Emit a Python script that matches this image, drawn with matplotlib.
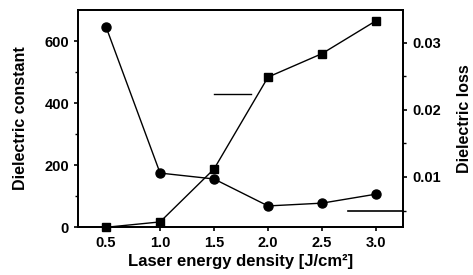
import numpy as np
import matplotlib
matplotlib.use("Agg")
import matplotlib.pyplot as plt

plt.rcParams['font.family'] = ['Liberation Sans', 'DejaVu Sans']

# Data
energy = [0.5, 1.0, 1.5, 2.0, 2.5, 3.0]
dielectric_constant = [645, 174, 155, 68, 77, 106]
dielectric_loss = [0.0025, 0.0033, 0.0112, 0.0249, 0.0284, 0.0333]

# short indicator segments (x range, level)
seg_left_x = [1.5, 1.84]
seg_left_y = [430, 430]
seg_right_x = [2.74, 3.25]
seg_right_y = [0.005, 0.005]

fig = plt.figure(figsize=(4.73, 2.75), dpi=100)
ax = fig.add_axes([0.165, 0.1745, 0.687, 0.789])
ax2 = ax.twinx()

ax.plot(energy, dielectric_constant, 'k-', lw=1.0, marker='o', ms=6.5, clip_on=False, zorder=3)
ax.plot(seg_left_x, seg_left_y, 'k-', lw=1.0)
ax2.plot(energy, dielectric_loss, 'k-', lw=1.0, marker='s', ms=5.5, clip_on=False, zorder=3)
ax2.plot(seg_right_x, seg_right_y, 'k-', lw=1.2, clip_on=False)

ax.set_xlim(0.24, 3.25)
ax.set_ylim(0, 700)
ax2.set_ylim(0.00254, 0.0349)

ax.set_xticks([0.5, 1.0, 1.5, 2.0, 2.5, 3.0])
ax.set_yticks([0, 200, 400, 600])
ax.set_yticks([100, 300, 500], minor=True)
ax2.set_yticks([0.01, 0.02, 0.03])
ax2.set_yticks([0.005, 0.015, 0.025], minor=True)
ax2.set_yticklabels(['0.01', '0.02', '0.03'])

for a in (ax, ax2):
    for s in a.spines.values():
        s.set_linewidth(1.3)
    a.tick_params(which='major', direction='out', length=3, width=1.2, labelsize=10.5)
    a.tick_params(which='minor', direction='out', length=2, width=1.0)
    for lab in a.get_xticklabels() + a.get_yticklabels():
        lab.set_fontweight('bold')

ax.set_xlabel('Laser energy density [J/cm²]', fontsize=12, fontweight='bold', labelpad=3)
ax.set_ylabel('Dielectric constant', fontsize=11.5, fontweight='bold', labelpad=12)
ax2.set_ylabel('Dielectric loss', fontsize=11.5, fontweight='bold', labelpad=12)

fig.savefig('out.png', dpi=100)
